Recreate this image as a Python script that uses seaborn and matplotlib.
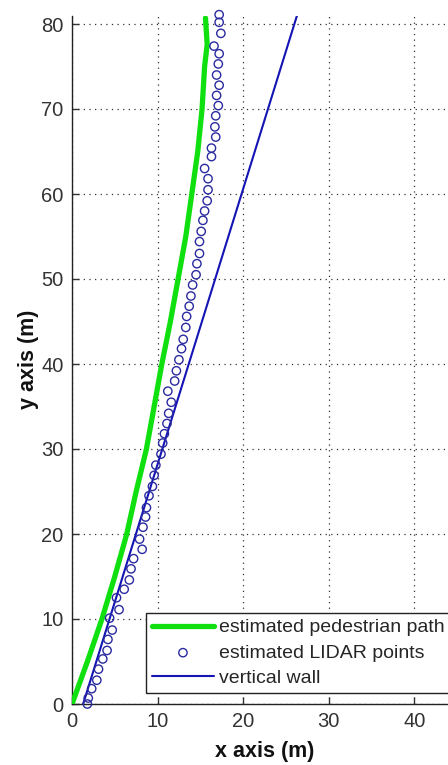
import numpy as np
import pandas as pd
import matplotlib
matplotlib.use('Agg')
import matplotlib.pyplot as plt
import seaborn as sns

# estimated pedestrian path
path_x = [0, 1.8, 3.5, 5.0, 6.4, 7.5, 8.7, 9.6, 10.5, 11.5, 12.4, 13.3, 14.0, 14.7, 15.2, 15.5, 15.8, 15.6]
path_y = [0, 5, 10, 15, 20, 25, 30, 35, 40, 45, 50, 55, 60, 65, 70, 75, 77.6, 80.7]

# estimated LIDAR points
lidar_x = [1.8, 1.9, 2.3, 2.9, 3.1, 3.6, 4.1, 4.2, 4.7, 4.4, 5.5, 5.2, 6.1, 6.7, 6.9, 7.2,
           8.2, 7.9, 8.3, 8.6, 8.7, 9.0, 9.4, 9.6, 9.8, 10.4, 10.6, 10.8, 11.1, 11.3, 11.6, 11.2,
           12.0, 12.2, 12.5, 12.8, 13.0, 13.3, 13.4, 13.7, 13.9, 14.1, 14.5, 14.6, 14.9, 14.9,
           15.1, 15.3, 15.5, 15.8, 15.9, 15.9, 15.5, 16.3, 16.3, 16.8, 16.7, 16.8, 17.1, 16.9,
           17.2, 16.9, 17.1, 17.2, 16.6, 17.4, 17.2, 17.2]
lidar_y = [0.0, 0.7, 1.8, 2.8, 4.1, 5.3, 6.3, 7.6, 8.7, 10.1, 11.1, 12.5, 13.5, 14.6, 15.9, 17.1,
           18.2, 19.4, 20.8, 22.0, 23.1, 24.5, 25.6, 26.9, 28.1, 29.4, 30.7, 31.8, 33.0, 34.2, 35.5, 36.8,
           38.0, 39.2, 40.5, 41.8, 42.9, 44.3, 45.6, 46.8, 48.0, 49.3, 50.5, 51.8, 53.0, 54.4,
           55.6, 56.9, 58.0, 59.2, 60.5, 61.8, 63.0, 64.4, 65.4, 66.7, 67.9, 69.2, 70.4, 71.6,
           72.8, 74.0, 75.3, 76.5, 77.4, 78.9, 80.2, 81.1]

# vertical wall
wall_x = [1.3, 26.3]
wall_y = [0, 81]

x_ticks = [0, 10, 20, 30, 40]
y_ticks = [0, 10, 20, 30, 40, 50, 60, 70, 80]

sns.set_theme(style='white')
plt.rcParams['font.family'] = ['Liberation Sans', 'DejaVu Sans']

fig = plt.figure(figsize=(4.48, 7.65), dpi=100)
ax = fig.add_axes([72 / 448, 61 / 765, (457 - 72) / 448, 688.5 / 765])

path = pd.DataFrame({'x': path_x, 'y': path_y})
lidar = pd.DataFrame({'x': lidar_x, 'y': lidar_y})
wall = pd.DataFrame({'x': wall_x, 'y': wall_y})

sns.lineplot(data=path, x='x', y='y', sort=False, estimator=None, color='#10e010',
             linewidth=3.8, label='estimated pedestrian path', ax=ax, zorder=3)
sns.scatterplot(data=lidar, x='x', y='y', marker='o', s=36, facecolor='none',
                edgecolor='#2a2aa0', linewidth=1.0, label='estimated LIDAR points', ax=ax,
                zorder=4, clip_on=False)
sns.lineplot(data=wall, x='x', y='y', sort=False, estimator=None, color='#1414b4',
             linewidth=1.5, label='vertical wall', ax=ax, zorder=3)

ax.set_xlim(0, 45)
ax.set_ylim(0, 81)
ax.set_xticks(x_ticks)
ax.set_yticks(y_ticks)
ax.tick_params(direction='in', length=5, width=1, colors='#333333', labelsize=14.5,
               left=True, bottom=True, pad=6)
ax.grid(True, linestyle=(0, (1, 3.5)), color='#333333', linewidth=0.9)

for s in ['top', 'right']:
    ax.spines[s].set_visible(False)
for s in ['left', 'bottom']:
    ax.spines[s].set_color('#222222')
    ax.spines[s].set_linewidth(1.0)

ax.set_xlabel('x axis (m)', fontsize=15.5, fontweight='bold', color='#111111', labelpad=7)
ax.set_ylabel('y axis (m)', fontsize=15.5, fontweight='bold', color='#111111', labelpad=2)

leg = ax.legend(loc='lower left', bbox_to_anchor=((146 - 72) / 385, 11 / 688.5),
                fontsize=14, frameon=True, fancybox=False, framealpha=1, edgecolor='#222222',
                borderpad=0.3, labelspacing=0.4, handlelength=3.2, handletextpad=0.25,
                borderaxespad=0)
leg.get_frame().set_linewidth(1.0)

fig.savefig('out.png', dpi=100)
